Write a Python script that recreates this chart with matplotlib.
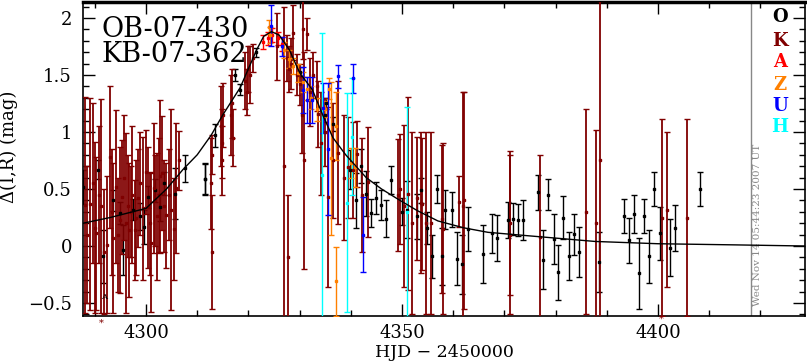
import matplotlib
matplotlib.use("Agg")
import matplotlib.pyplot as plt
from matplotlib.ticker import MultipleLocator, FuncFormatter

plt.rcParams["font.family"] = "DejaVu Serif"

# model curve
model_t = [4287.7, 4293, 4300, 4304, 4307.2, 4310, 4312.7, 4315, 4318.4, 4321.6,
           4323, 4324.5, 4326, 4328, 4330, 4332.5, 4334.5, 4336.5, 4339, 4343,
           4346, 4349.6, 4353, 4357, 4362, 4366.8, 4374.6, 4387.7, 4400, 4415, 4428.7]
model_m = [0.20, 0.25, 0.33, 0.50, 0.67, 0.80, 0.97, 1.15, 1.39, 1.72,
           1.84, 1.88, 1.85, 1.72, 1.52, 1.37, 1.15, 0.95, 0.80, 0.60,
           0.50, 0.40, 0.31, 0.22, 0.16, 0.12, 0.09, 0.04, 0.02, 0.01, 0.0]

# O
o_t = [4287.7, 4290.6, 4291.6, 4293.6, 4294.9, 4295.5, 4297.5, 4298.8, 4299.6, 4300.4,
       4301.7, 4302.7, 4303.6, 4305.6, 4307.6, 4311.5, 4311.6, 4313.5, 4317.4, 4318.4,
       4321.5, 4330.0, 4334.9, 4335.2, 4336.5, 4339.8, 4341.0, 4342.0, 4343.0, 4343.9,
       4344.9, 4345.9, 4346.9, 4347.9, 4349.9, 4350.9, 4352.9, 4353.8, 4354.8, 4355.9,
       4356.8, 4357.9, 4358.4, 4359.8, 4360.8, 4361.7, 4362.8, 4365.8, 4367.6, 4368.6,
       4370.6, 4371.6, 4372.7, 4373.6, 4376.6, 4377.6, 4378.6, 4379.6, 4380.5, 4381.5,
       4382.6, 4383.5, 4384.5, 4388.5, 4393.4, 4394.4, 4395.4, 4396.3, 4397.3, 4398.3,
       4399.3, 4400.3, 4402.3, 4403.3, 4408.2]
o_m = [0.52, 0.67, -0.09, 0.40, 0.29, -0.035, 0.32, 0.26, 0.17, 0.43,
       0.49, 0.34, 0.55, 0.46, 0.68, 0.59, 0.59, 0.97, 1.50, 1.37,
       1.70, 1.53, 1.15, 1.25, 1.07, 0.67, 0.40, 0.70, 0.46, 0.29,
       0.42, 0.36, 0.24, 0.58, 0.30, 0.32, 0.26, 0.49, 0.16, -0.09,
       0.50, -0.09, 0.32, 0.32, -0.11, -0.16, 0.15, -0.07, 0.11, 0.07,
       0.23, 0.24, 0.23, 0.23, 0.47, -0.12, 0.45, 0.06, -0.23, 0.25,
       -0.09, 0.105, -0.05, -0.14, 0.26, 0.05, 0.28, -0.24, 0.26, -0.09,
       0.50, 0.11, -0.015, 0.16, 0.50]
o_e = [0.15, 0.08, 0.23, 0.09, 0.10, 0.22, 0.09, 0.12, 0.15, 0.10,
       0.10, 0.12, 0.10, 0.22, 0.12, 0.14, 0.13, 0.10, 0.05, 0.05,
       0.04, 0.04, 0.06, 0.05, 0.06, 0.17, 0.24, 0.15, 0.20, 0.12,
       0.14, 0.13, 0.16, 0.125, 0.12, 0.25, 0.20, 0.11, 0.14, 0.19,
       0.125, 0.25, 0.175, 0.15, 0.23, 0.26, 0.19, 0.25, 0.175, 0.20,
       0.16, 0.14, 0.14, 0.175, 0.15, 0.26, 0.135, 0.22, 0.24, 0.19,
       0.21, 0.18, 0.22, 0.26, 0.15, 0.20, 0.17, 0.31, 0.15, 0.23,
       0.15, 0.23, 0.25, 0.20, 0.15]

# K (dark red)
k_t = [4288.0, 4288.5, 4289.1, 4289.6, 4290.0, 4290.3, 4290.8, 4291.3, 4291.8, 4292.4,
       4293.0, 4293.3, 4293.6, 4294.2, 4294.6, 4294.9, 4295.4, 4295.7, 4296.0, 4296.4,
       4296.7, 4297.0, 4297.3, 4297.8, 4298.1, 4298.4, 4298.9, 4299.4, 4299.9, 4300.4,
       4300.7, 4301.0, 4301.5, 4301.8, 4302.1, 4302.5, 4302.8, 4303.2, 4303.6, 4304.0,
       4304.5, 4304.9, 4305.4, 4305.9, 4306.4, 4312.7, 4312.8, 4312.9, 4314.6, 4314.8,
       4314.9, 4315.1, 4316.5, 4316.8, 4317.0, 4319.4, 4319.7, 4320.0, 4320.3, 4320.9,
       4325.5, 4326.9, 4327.5, 4327.7, 4328.0, 4328.4, 4328.7, 4329.5, 4330.0, 4330.5,
       4330.6, 4330.8, 4331.4, 4332.0, 4332.7, 4333.3, 4333.5, 4334.2, 4335.0, 4335.6,
       4336.6, 4337.4, 4338.6, 4339.5, 4340.4, 4341.3, 4342.2, 4343.4, 4349.2, 4349.6,
       4350.4, 4351.1, 4352.0, 4352.9, 4353.7, 4353.9, 4354.7, 4355.7, 4357.9, 4358.1,
       4361.1, 4362.0, 4362.2, 4371.0, 4371.1, 4377.0, 4385.9, 4387.8, 4388.7, 4400.7,
       4401.7, 4405.6]
k_m = [0.36, 0.10, 0.37, 0.55, 0.16, 0.11, 0.45, 0.35, -0.05, 0.01,
       0.78, 0.30, 0.07, 0.52, 0.10, 0.23, 0.43, 0.60, 0.20, 0.35,
       0.14, 0.30, 0.45, 0.14, 0.25, 0.42, 0.55, 0.33, 0.65, 0.34,
       0.20, 0.03, 0.51, 0.40, 0.26, 0.45, 0.61, 0.64, 0.35, 0.27,
       0.45, 0.32, 0.15, 0.51, 0.75, 0.55, -0.05, 0.80, 1.05, 0.75,
       0.90, 1.15, 1.15, 1.25, 0.95, 1.45, 1.35, 1.55, 1.50, 1.65,
       1.75, 0.70, 1.65, -0.10, 1.55, 1.60, 1.87, 1.50, 1.42, 1.15,
       1.90, 0.75, 1.86, 1.35, 1.50, 1.40, 1.16, 0.90, 1.00, 0.43,
       0.75, 0.82, 0.60, 0.69, 0.67, 0.81, 0.45, 0.56, 0.45, 0.50,
       0.35, 0.46, 0.20, 0.42, 0.38, 0.37, 0.20, 0.20, 0.24, 0.15,
       0.39, 0.35, 0.40, 0.10, 0.20, 0.08, 0.30, 0.20, 0.75, 0.25,
       0.32, 0.25]
k_e = [0.95, 0.60, 0.93, 0.70, 0.75, 0.67, 0.60, 0.94, 0.55, 0.60,
       0.62, 0.55, 0.66, 0.67, 0.50, 0.64, 0.50, 0.55, 0.79, 0.45,
       0.59, 0.40, 0.60, 0.44, 0.50, 0.43, 0.45, 0.63, 0.37, 0.53,
       0.45, 0.61, 0.57, 0.40, 0.56, 0.50, 0.67, 0.50, 0.40, 0.46,
       0.40, 0.88, 0.45, 0.57, 0.26, 0.40, 0.50, 0.17, 0.35, 0.30,
       0.30, 0.28, 0.35, 0.30, 0.25, 0.25, 0.20, 0.20, 0.25, 0.12,
       0.29, 1.40, 0.20, 0.55, 0.20, 0.22, 0.24, 0.18, 0.18, 0.33,
       0.26, 0.95, 0.14, 0.30, 0.20, 0.22, 0.29, 0.45, 0.30, 0.79,
       0.50, 0.63, 0.55, 0.44, 0.42, 0.29, 0.50, 0.48, 0.49, 0.48,
       0.71, 0.85, 0.80, 0.54, 0.62, 0.58, 0.80, 0.80, 0.65, 0.75,
       0.22, 1.00, 0.95, 0.70, 0.63, 0.72, 0.90, 0.82, 1.40, 0.86,
       0.68, 0.86]

# A (red)
a_t = [4322.9, 4323.8, 4324.6, 4325.8, 4326.5]
a_m = [1.79, 1.82, 1.85, 1.82, 1.77]
a_e = [0.06, 0.06, 0.06, 0.06, 0.06]

# Z (orange)
z_t = [4324.0, 4324.3, 4327.0, 4328.0, 4328.8, 4329.6, 4330.6, 4331.5, 4332.2, 4333.3,
       4335.0, 4335.8, 4336.1, 4337.1, 4337.2, 4340.0, 4340.8]
z_m = [1.92, 1.85, 1.72, 1.64, 1.58, 1.52, 1.44, 1.38, 1.30, 1.20,
       1.20, 1.38, 0.77, 1.05, -0.31, 0.73, 0.69]
z_e = [0.06, 0.07, 0.07, 0.08, 0.07, 0.08, 0.09, 0.10, 0.10, 0.10,
       0.07, 0.09, 0.67, 0.30, 0.30, 0.13, 0.17]

# U (blue)
u_t = [4324.5, 4326.6, 4330.7, 4331.5, 4332.5, 4334.5, 4335.6, 4337.4, 4340.4, 4342.4]
u_m = [1.93, 1.75, 1.37, 1.28, 1.28, 1.21, 0.85, 1.49, 1.47, 0.10]
u_e = [0.18, 0.08, 0.20, 0.20, 0.20, 0.22, 0.58, 0.10, 0.13, 0.33]

# H (cyan)
h_t = [4334.3, 4339.2, 4340.3, 4351.0]
h_m = [0.62, 0.38, 0.96, 0.30]
h_e = [1.25, 0.96, 0.51, 0.92]

series = [("O", "black", o_t, o_m, o_e),
          ("K", "#800000", k_t, k_m, k_e),
          ("A", "#ff0000", a_t, a_m, a_e),
          ("Z", "#ff8000", z_t, z_m, z_e),
          ("U", "#0000ff", u_t, u_m, u_e),
          ("H", "#00ffff", h_t, h_m, h_e)]

fig = plt.figure(figsize=(8.07, 3.62), dpi=100)
ax = fig.add_axes([0.1029, 0.127, 0.8946, 0.8675])

for name, col, t, m, e in series:
    lw = 1.3 if name == "K" else 1.0
    ax.errorbar(t, m, yerr=e, fmt="s", color=col, ms=1.8, elinewidth=lw,
                capsize=2, capthick=1.0, zorder=3)

ax.plot(model_t, model_m, color="black", lw=1.0, zorder=4)

ax.set_xlim(4287.7, 4428.7)
ax.set_ylim(-0.614, 2.14)

# timestamp and separator
ax.axvline(4418.2, color="#888888", lw=1.0)
ax.text(4419.4, -0.53, "Wed Nov 14 05:44:23 2007 UT", rotation=90, color="#888888",
        fontsize=7.5, ha="center", va="bottom")

# legend letters
leg_y = [2.01, 1.80, 1.61, 1.41, 1.23, 1.04]
for (name, col, *_), yy in zip(series, leg_y):
    ax.text(4423.8, yy, name, color=col, fontsize=13, fontweight="bold",
            ha="center", va="center")

# event names
ax.text(0.025, 0.955, "OB-07-430", transform=ax.transAxes, fontsize=19.5,
        va="top", ha="left")
ax.text(0.025, 0.875, "KB-07-362", transform=ax.transAxes, fontsize=19.5,
        va="top", ha="left")

# off-scale markers
ax.text(4291.2, -0.68, "*", color="#800000", fontsize=7, ha="center", va="center", clip_on=False)
ax.text(4400.6, -0.645, "*", color="#800000", fontsize=7, ha="center", va="center", clip_on=False)
ax.text(4291.9, -0.45, "A", color="black", fontsize=6, ha="center", va="center")

ax.xaxis.set_major_locator(MultipleLocator(50))
ax.xaxis.set_minor_locator(MultipleLocator(10))
ax.yaxis.set_major_locator(MultipleLocator(0.5))
ax.yaxis.set_minor_locator(MultipleLocator(0.1))
ax.yaxis.set_major_formatter(FuncFormatter(lambda v, p: ("%g" % v).replace("-", "\u2212")))
ax.tick_params(which="both", direction="in", top=True, right=True, width=1.0)
ax.tick_params(which="major", length=8.5, labelsize=13)
ax.tick_params(axis="x", which="major", pad=6)
ax.tick_params(axis="y", which="major", pad=8)
ax.tick_params(which="minor", length=4.3)

for s in ax.spines.values():
    s.set_linewidth(1.2)
ax.spines["top"].set_linewidth(2.5)

ax.set_xlabel("HJD − 2450000", fontsize=12.5)
ax.set_ylabel("Δ(I,R) (mag)", fontsize=13)
ax.xaxis.label.set_va("center")
ax.xaxis.set_label_coords(0.50, -0.117)
ax.yaxis.set_label_coords(-0.09, 0.54)

fig.savefig("out.png", dpi=100)
